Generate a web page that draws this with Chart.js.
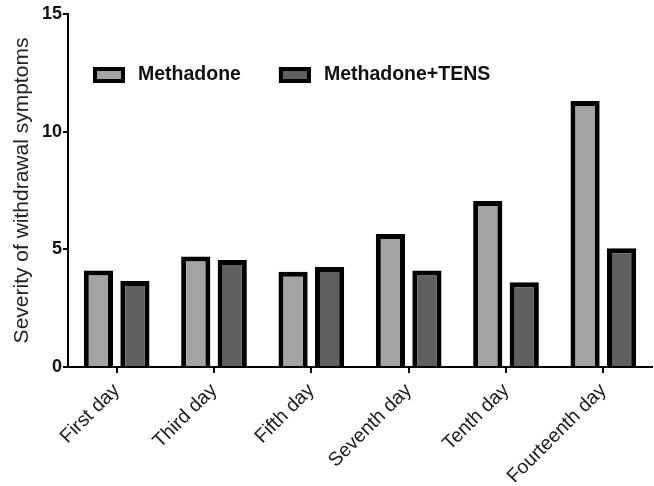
<!DOCTYPE html>
<html>
<head>
<meta charset="utf-8">
<script src="https://cdn.jsdelivr.net/npm/chart.js@4/dist/chart.umd.min.js"></script>
<style>
  html, body { margin: 0; padding: 0; background: #fff; }
  #wrap { width: 654px; height: 486px; position: relative; }
</style>
</head>
<body>
<div id="wrap"><canvas id="severity-Chart"></canvas></div>
<script>
// values
const days = ['First day', 'Third day', 'Fifth day', 'Seventh day', 'Tenth day', 'Fourteenth day'];
const methadone = [4.1, 4.7, 4.05, 5.65, 7.05, 11.3];
const methadoneTens = [3.65, 4.55, 4.25, 4.1, 3.6, 5.05];
const yTicks = [0, 5, 10, 15];

const FONT = 'Arial, "Liberation Sans", sans-serif';

// horizontal legend drawn inside the plot, near the top-left
const insideLegend = {
    id: 'insideLegend',
    afterDraw(chart) {
        const c = chart.ctx;
        const area = chart.chartArea;
        let x = area.left + 25;
        const y = area.top + 53;
        c.save();
        c.font = 'bold 19.5px ' + FONT;
        c.textBaseline = 'middle';
        chart.data.datasets.forEach(ds => {
            c.fillStyle = ds.backgroundColor;
            c.fillRect(x, y, 32, 16);
            c.lineWidth = 4;
            c.strokeStyle = '#000';
            c.strokeRect(x + 2, y + 2, 28, 12);
            c.fillStyle = '#111';
            c.fillText(ds.label, x + 45, y + 8);
            x += 45 + c.measureText(ds.label).width + 38;
        });
        c.restore();
    }
};

const ctx = document.getElementById('severity-Chart').getContext('2d');

new Chart(ctx, {
    type: 'bar',
    data: {
        labels: days,
        datasets: [{
            label: 'Methadone',
            data: methadone,
            backgroundColor: '#a3a3a3',
            borderColor: '#000',
            borderWidth: 5,
            borderSkipped: 'bottom'
        }, {
            label: 'Methadone+TENS',
            data: methadoneTens,
            backgroundColor: '#5f5f5f',
            borderColor: '#000',
            borderWidth: 5,
            borderSkipped: 'bottom'
        }]
    },
    options: {
        responsive: true,
        maintainAspectRatio: false,
        animation: false,
        categoryPercentage: 0.75,
        barPercentage: 0.8,
        layout: { padding: { top: 14, right: 2, left: 4 } },
        plugins: {
            tooltip: { enabled: false },
            legend: { display: false }
        },
        scales: {
            y: {
                min: 0,
                max: 15,
                afterBuildTicks: axis => { axis.ticks = yTicks.map(v => ({ value: v })); },
                afterFit: axis => { axis.width = 64; },
                border: { color: '#000', width: 2 },
                grid: { drawOnChartArea: false, drawTicks: true, tickLength: 5, color: '#000', lineWidth: 2 },
                ticks: {
                    color: '#111',
                    padding: 1,
                    font: { family: FONT, size: 18, weight: 'bold' }
                },
                title: {
                    display: true,
                    text: 'Severity of withdrawal symptoms',
                    color: '#222',
                    padding: { top: 6, bottom: 0 },
                    font: { family: FONT, size: 21 }
                }
            },
            x: {
                afterFit: axis => { axis.height = 119; },
                border: { color: '#000', width: 2 },
                grid: { offset: false, drawOnChartArea: false, drawTicks: true, tickLength: 6, color: '#000', lineWidth: 2 },
                ticks: {
                    color: '#1a1a1a',
                    minRotation: 45,
                    maxRotation: 45,
                    padding: 6,
                    font: { family: FONT, size: 19.5 }
                }
            }
        }
    },
    plugins: [insideLegend]
});
</script>
</body>
</html>
